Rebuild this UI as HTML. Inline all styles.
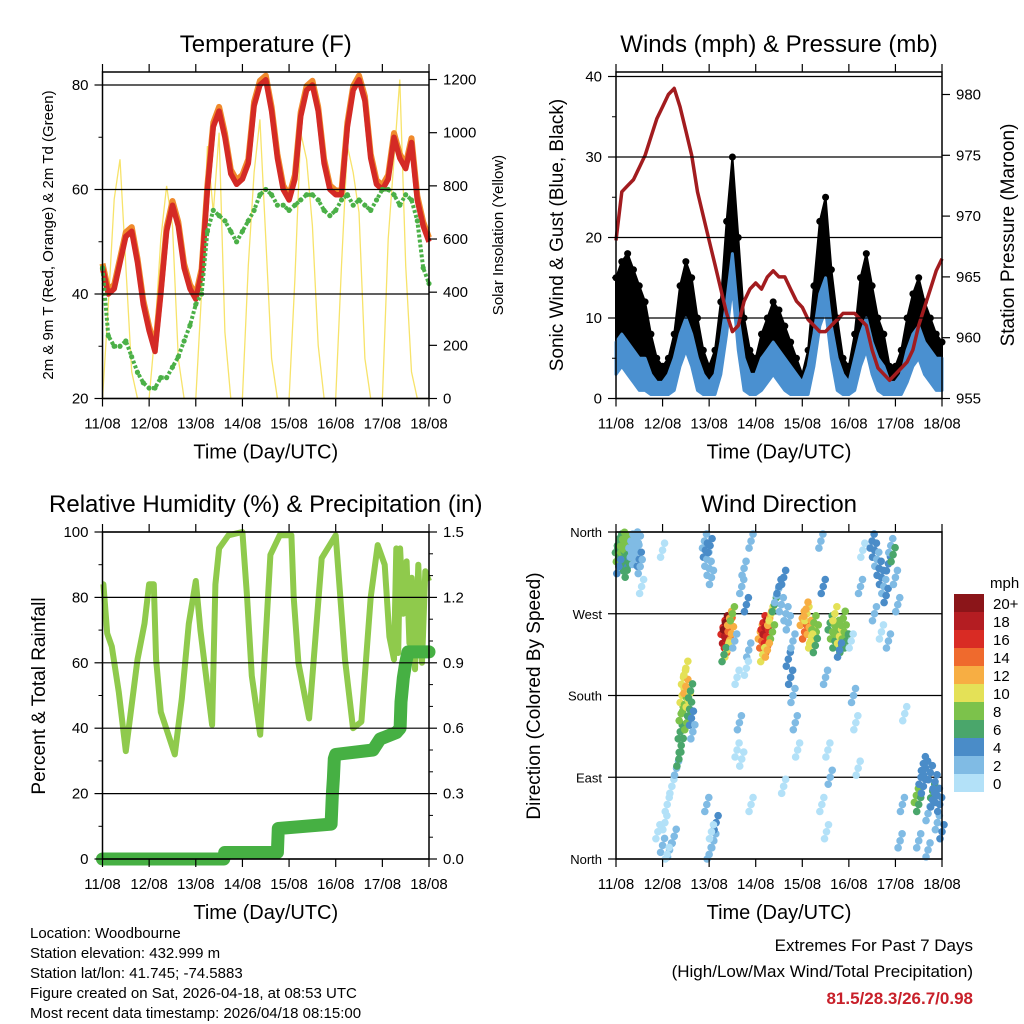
<!DOCTYPE html>
<html><head><meta charset="utf-8"><style>
body{margin:0;background:#fff}
svg{display:block;font-family:"Liberation Sans",sans-serif}
</style></head><body>
<svg id="s" width="1024" height="1024" viewBox="0 0 1024 1024">
<g id="g1"></g>
<g id="g2"></g>
<g id="g3"></g>
<g id="g4"></g>
<g font-size="15" fill="#000">
<text x="30" y="938">Location: Woodbourne</text>
<text x="30" y="958">Station elevation: 432.999 m</text>
<text x="30" y="978">Station lat/lon: 41.745; -74.5883</text>
<text x="30" y="998">Figure created on Sat, 2026-04-18, at 08:53 UTC</text>
<text x="30" y="1018">Most recent data timestamp: 2026/04/18 08:15:00</text>
</g>
<g text-anchor="end">
<text x="973" y="951" font-size="17">Extremes For Past 7 Days</text>
<text x="973" y="977" font-size="17">(High/Low/Max Wind/Total Precipitation)</text>
<text x="973" y="1004" font-size="17" font-weight="bold" fill="#c8202a">81.5/28.3/26.7/0.98</text>
</g>
</svg>
<script>
const days=["11/08","12/08","13/08","14/08","15/08","16/08","17/08","18/08"];
const temp=[45,40,41,46,51,52,46,38,33,29,40,52,57,53,45,41,39,44,60,72,75,70,63,61,62,65,76,80,81,75,66,60,58,62,74,79,80,75,65,60,59,59,72,79,81,77,66,61,60,62,70,66,64,69,58,53,50];
const dew=[45,32,30,30,31,28,25,23,22,22,24,24,26,28,31,34,38,40,52,56,55,54,52,50,52,54,56,59,60,59,57,57,56,57,58,59,59,58,56,55,56,58,59,57,58,57,56,58,60,60,59,57,59,58,54,45,42];
const solar=[0,350,750,900,500,100,0,0, 0,250,600,800,650,150,0,0, 0,400,950,700,1000,250,0,0, 0,500,850,1050,600,150,0,0, 0,450,1000,900,650,200,0,0, 0,500,950,850,700,150,0,0, 0,600,900,1200,500,100,0,0, 0];
const gust=[15,17,18,16,14,12,8,5, 4,5,8,14,17,15,10,6, 4,6,12,22,30,20,10,6, 5,8,10,12,11,9,7,5, 3,6,14,22,25,16,10,5, 4,8,15,18,14,10,8,4, 4,6,10,13,15,12,10,8, 7];
const wind=[7,8,7,6,5,5,3,2, 2,3,5,8,10,8,5,3, 2,3,7,12,18,10,5,3, 3,5,6,7,6,5,4,3, 2,4,8,13,15,9,5,3, 2,5,8,10,7,5,4,2, 2,3,6,8,9,7,6,5, 5];
const pres=[968,972,972.5,973,974,975,976.5,978,979,980,980.5,979,977,975,972,970,968,966,964,962,960.5,961,963,964,964.5,964,965,965.5,965,965,964,963,962.5,961.5,961,960.5,960.5,961,961.5,962,962,962,961.5,961,959,957.5,957,956.5,957,957.5,958,959,961,962.5,964,965.5,966.5];
const rhT=[0,0.02,0.1,0.2,0.35,0.5,0.75,0.9,1.0,1.1,1.15,1.25,1.55,1.7,1.85,2.0,2.1,2.35,2.42,2.5,2.7,3.0,3.1,3.2,3.38,3.6,3.8,4.05,4.1,4.2,4.43,4.7,5.0,5.2,5.37,5.55,5.75,5.9,6.05,6.15,6.25,6.3,6.34,6.38,6.45,6.52,6.58,6.63,6.7,6.77,6.85,6.92,7.0];
const rh=[84,84,69,65,51,33,61,72,84,84,61,45,32,49,72,85,70,41,84,95,99,100,80,56,38,93,99,99,80,60,43,92,99,61,40,42,80,96,90,68,61,95,63,95,75,91,66,86,58,90,60,88,85];
const prT=[0,2.6,2.62,3.75,3.77,4.9,4.93,4.95,4.97,5.0,5.8,5.95,6.3,6.38,6.4,6.45,6.5,6.55,7.0];
const prV=[0,0,0.03,0.03,0.14,0.16,0.30,0.37,0.46,0.48,0.50,0.55,0.58,0.60,0.72,0.83,0.90,0.95,0.95];
const wdT=[0.03,0.05,0.08,0.1,0.12,0.15,0.18,0.2,0.22,0.25,0.28,0.3,0.06,0.14,0.24,
0.32,0.35,0.38,0.4,0.42,0.45,0.48,0.5,0.55,0.52,
0.9,1.0,1.05,1.1,1.15,1.2,1.25,1.3,1.0,1.1,
1.35,1.38,1.4,1.42,1.45,1.47,1.5,1.52,1.55,1.58,1.6,1.62,1.65,1.4,1.5,
1.9,1.92,1.95,2.0,2.02,2.05,2.1,2.15,1.95,2.0,2.05,
2.3,2.33,2.35,2.37,2.4,2.42,2.45,2.48,2.38,2.44,2.32,2.5,
2.55,2.6,2.65,2.7,2.75,2.8,2.85,2.9,2.6,2.7,2.8,2.9,
3.1,3.13,3.16,3.2,3.23,3.26,3.3,3.33,3.36,3.4,3.15,3.25,
3.45,3.5,3.55,3.6,3.65,3.7,3.75,3.8,3.85,3.9,3.6,3.7,3.8,
4.0,4.05,4.1,4.15,4.2,4.25,4.3,4.08,4.18,4.28,
4.4,4.45,4.5,4.55,4.6,4.42,4.52,
4.6,4.65,4.7,4.75,4.8,4.85,4.9,4.95,4.7,4.8,4.88,
5.05,5.1,5.15,5.2,5.25,5.3,
5.5,5.55,5.6,5.65,5.7,5.75,5.8,5.85,5.9,5.95,6.0,6.05,5.55,5.7,5.85,
6.1,6.15,6.2,
6.45,6.5,6.55,6.6,6.65,6.7,6.75,6.8,6.85,6.9,6.95,7.0,6.5,6.6,6.7,6.8,6.9];
const wdDir=[345,335,350,340,330,345,338,325,348,335,342,330,322,352,318,
350,340,345,332,355,338,348,330,300,322,
30,15,40,60,10,80,25,100,340,5,
110,140,160,180,200,170,190,150,175,165,185,155,140,125,210,
350,340,330,320,345,310,20,40,60,5,30,
255,245,260,240,250,235,258,248,230,265,225,270,
240,200,150,300,320,280,230,350,120,110,210,60,
250,240,260,255,245,235,265,270,250,280,225,230,
290,300,280,310,270,220,200,180,150,120,80,260,240,
265,250,270,255,245,260,250,275,240,235,
350,300,200,120,90,60,30,
260,250,240,255,245,235,250,240,270,230,265,
240,180,150,100,300,340,
350,340,330,320,310,300,290,325,345,335,310,280,270,250,240,
20,60,160,
70,60,90,80,100,50,95,75,85,40,60,30,20,105,10,65,70];
const wdSpd=[7,8,6,7,5,8,6,7,9,6,7,5,4,8,6,
3,2,3,2,2,3,2,4,1,2,
1,2,1,1,2,1,2,3,1,1,
6,7,8,10,11,9,12,8,10,7,6,4,3,7,10,
3,4,2,3,4,3,2,4,2,3,1,
16,18,20,17,19,14,15,12,10,13,6,8,
2,1,2,3,2,4,3,2,1,1,1,1,
12,14,16,18,17,15,12,10,8,7,10,13,
3,4,2,4,3,4,4,3,2,1,1,3,2,
12,14,10,13,11,9,8,12,10,6,
3,4,2,1,2,1,1,
6,8,7,9,10,6,8,7,11,5,9,
1,2,1,1,2,1,
4,5,3,4,4,3,5,4,3,6,3,2,2,1,2,
2,3,1,
8,6,4,5,4,3,5,6,4,3,5,4,3,4,2,5,4];
const cbLabels=["0","2","4","6","8","10","12","14","16","18","20+"];
const cbColors=["#b3e1f8","#80bbe4","#4a8cc8","#4aa66b","#7cc24b","#e4e157","#f7ae43","#ef6a2d","#d92b24","#b41d22","#8b1519"];

const NS="http://www.w3.org/2000/svg";
function el(parent,tag,attrs,name,txt){const e=document.createElementNS(NS,tag);for(const k in attrs)e.setAttribute(k,attrs[k]);


if(txt!==undefined)e.textContent=txt;parent.appendChild(e);return e;}
function pts(xs,ys){return xs.map((x,i)=>x.toFixed(1)+","+ys[i].toFixed(1)).join(" ");}

function frame(g,P,o){
  for(let d=0;d<days.length;d++){const x=P.xs(d);
    el(g,"line",{x1:x,x2:x,y1:P.b,y2:P.b+8,stroke:"#000","stroke-width":1.2},"x-tick");
    el(g,"line",{x1:x,x2:x,y1:P.t,y2:P.t-8,stroke:"#000","stroke-width":1.2},"x-tick-top");
    el(g,"text",{x:x,y:P.b+30,"font-size":15,"text-anchor":"middle"},"x-tick-label",days[d]);}
  el(g,"text",{x:(P.l+P.r)/2,y:P.b+60,"font-size":20,"text-anchor":"middle"},"x-axis-title","Time (Day/UTC)");
  el(g,"text",{x:(P.l+P.r)/2+o.titleDx,y:P.t-20,"font-size":24,"text-anchor":"middle"},"panel-title",o.title);
}
function box(g,P){el(g,"rect",{x:P.l,y:P.t,width:P.r-P.l,height:P.b-P.t,fill:"none",stroke:"#000","stroke-width":1.5},"plot-frame");}
function yTicks(g,P,vals,fy,side,labels,grid,fs){
  vals.forEach((v,i)=>{const y=fy(v);
    if(side==="l"){el(g,"line",{x1:P.l-8,x2:P.l,y1:y,y2:y,stroke:"#000","stroke-width":1.2},"y-tick");
      el(g,"text",{x:P.l-14,y:y+5,"font-size":fs,"text-anchor":"end"},"y-tick-label",labels[i]);}
    else{el(g,"line",{x1:P.r,x2:P.r+8,y1:y,y2:y,stroke:"#000","stroke-width":1.2},"y2-tick");
      el(g,"text",{x:P.r+14,y:y+5,"font-size":fs,"text-anchor":"start"},"y2-tick-label",labels[i]);}
    if(grid)el(g,"line",{x1:P.l,x2:P.r,y1:y,y2:y,stroke:"#000","stroke-width":1.2},"gridline");
  });
}
function minor(g,P,vals,fy,side){vals.forEach(v=>{const y=fy(v);
  if(side==="l")el(g,"line",{x1:P.l-4,x2:P.l,y1:y,y2:y,stroke:"#000"},"y-minor-tick");
  else el(g,"line",{x1:P.r,x2:P.r+4,y1:y,y2:y,stroke:"#000"},"y2-minor-tick");});}
function vtitle(g,x,y,txt,fs,name){el(g,"text",{x:0,y:0,"font-size":fs,"text-anchor":"middle",transform:`translate(${x},${y}) rotate(-90)`},name,txt);}

const step=i=>i/8;
// ---- Panel 1
{const g=document.getElementById("g1");
 const P={l:102.5,r:429,t:72,b:398.5};P.xs=d=>P.l+d*(P.r-P.l)/7;
 const yT=v=>398.5-(v-20)*5.225, yS=s=>398.5-s*0.2658;
 const xs=solar.map((_,i)=>P.xs(step(i)));
 el(g,"polyline",{points:pts(xs,solar.map(yS)),fill:"none",stroke:"#f7e36a","stroke-width":1.3},"solar-line");
 const xt=temp.map((_,i)=>P.xs(step(i)));
 el(g,"polyline",{points:pts(xt,temp.map(v=>yT(v+0.8))),fill:"none",stroke:"#f08a2c","stroke-width":6,"stroke-linejoin":"round"},"temp-9m-line");
 el(g,"polyline",{points:pts(xt,temp.map(yT)),fill:"none",stroke:"#d42a25","stroke-width":5.5,"stroke-linejoin":"round"},"temp-2m-line");
 el(g,"polyline",{points:pts(xt,dew.map(yT)),fill:"none",stroke:"#4bb047","stroke-width":4,"stroke-dasharray":"3 2","stroke-linejoin":"round"},"dewpoint-line");
 dew.forEach((v,i)=>el(g,"circle",{cx:xt[i],cy:yT(v),r:2.6,fill:"#4bb047"},"dewpoint-point"));
 yTicks(g,P,[20,40,60,80],yT,"l",["20","40","60","80"],true,15);
 minor(g,P,[30,50,70],yT,"l");
 yTicks(g,P,[0,200,400,600,800,1000,1200],yS,"r",["0","200","400","600","800","1000","1200"],false,15);
 box(g,P);frame(g,P,{title:"Temperature (F)",titleDx:0});
 vtitle(g,53,235,"2m & 9m T (Red, Orange) & 2m Td (Green)",15,"y-axis-title");
 vtitle(g,503,235,"Solar Insolation (Yellow)",15,"y2-axis-title");}
// ---- Panel 2
{const g=document.getElementById("g2");
 const P={l:616,r:942,t:72,b:398.5};P.xs=d=>P.l+d*(P.r-P.l)/7;
 const yW=v=>398.5-v*8.05, yP=p=>398.5-(p-955)*12.16;
 const xs=gust.map((_,i)=>P.xs(step(i)));
 const band=pts(xs,gust.map(yW))+" "+pts(xs.slice().reverse(),wind.slice().reverse().map(yW));
 el(g,"polygon",{points:band,fill:"#000",stroke:"#000","stroke-width":2,"stroke-linejoin":"round"},"gust-band");
 gust.forEach((v,i)=>el(g,"circle",{cx:xs[i],cy:yW(v),r:3.5,fill:"#000"},"gust-point"));
 const lowband=pts(xs,wind.map(yW))+" "+pts(xs.slice().reverse(),wind.slice().reverse().map(v=>yW(Math.max(v-4,0.5))));
 el(g,"polygon",{points:lowband,fill:"#4a90d0",stroke:"#4a90d0","stroke-width":3,"stroke-linejoin":"round"},"wind-band");
 el(g,"polyline",{points:pts(xs,pres.map(yP)),fill:"none",stroke:"#a21c1f","stroke-width":3.5,"stroke-linejoin":"round"},"pressure-line");
 yTicks(g,P,[0,10,20,30,40],yW,"l",["0","10","20","30","40"],true,15);
 minor(g,P,[5,15,25,35],yW,"l");
 yTicks(g,P,[955,960,965,970,975,980],yP,"r",["955","960","965","970","975","980"],false,15);
 box(g,P);frame(g,P,{title:"Winds (mph) & Pressure (mb)",titleDx:0});
 vtitle(g,563,235,"Sonic Wind & Gust (Blue, Black)",19,"y-axis-title");
 vtitle(g,1014,235,"Station Pressure (Maroon)",19,"y2-axis-title");}
// ---- Panel 3
{const g=document.getElementById("g3");
 const P={l:102.5,r:429,t:532,b:859};P.xs=d=>P.l+d*(P.r-P.l)/7;
 const yR=v=>859-v*3.27, yPr=r=>859-r*218;
 el(g,"polyline",{points:pts(rhT.map(P.xs),rh.map(yR)),fill:"none",stroke:"#8fca4c","stroke-width":6,"stroke-linejoin":"round"},"rh-line");
 el(g,"polyline",{points:pts(prT.map(P.xs),prV.map(yPr)),fill:"none",stroke:"#46b043","stroke-width":13,"stroke-linejoin":"round","stroke-linecap":"round"},"precip-line");
 yTicks(g,P,[0,20,40,60,80,100],yR,"l",["0","20","40","60","80","100"],true,15);
 minor(g,P,[10,30,50,70,90],yR,"l");
 yTicks(g,P,[0,0.3,0.6,0.9,1.2,1.5],yPr,"r",["0.0","0.3","0.6","0.9","1.2","1.5"],false,15);
 minor(g,P,[0.1,0.2,0.4,0.5,0.7,0.8,1.0,1.1,1.3,1.4],yPr,"r");
 box(g,P);frame(g,P,{title:"Relative Humidity (%) & Precipitation (in)",titleDx:0});
 vtitle(g,45,696,"Percent & Total Rainfall",19,"y-axis-title");}
// ---- Panel 4
{const g=document.getElementById("g4");
 const P={l:616,r:942,t:532,b:859};P.xs=d=>P.l+d*(P.r-P.l)/7;
 const yD=d=>859-d*327/360;
 yTicks(g,P,[0,90,180,270,360],yD,"l",["North","East","South","West","North"],true,13);
 const offs=[[0,0],[2,-7],[-2,7]];
 wdT.forEach((t,i)=>{const c=cbColors[Math.min(10,Math.floor(wdSpd[i]/2))];
   offs.forEach(o=>{const cy=Math.min(P.b,Math.max(P.t,yD(wdDir[i])+o[1]));
     el(g,"circle",{cx:P.xs(t)+o[0],cy:cy,r:3.8,fill:c},"direction-point");});});
 box(g,P);frame(g,P,{title:"Wind Direction",titleDx:0});
 vtitle(g,540,696,"Direction (Colored By Speed)",19,"y-axis-title");
 el(g,"text",{x:990,y:588,"font-size":15},"colorbar-unit","mph");
 cbColors.forEach((c,i)=>{const y=774-i*18;
   el(g,"rect",{x:954,y:y,width:30,height:18,fill:c},"colorbar-swatch");
   el(g,"text",{x:993,y:y+15,"font-size":15},"colorbar-label",cbLabels[i]);});}
</script>
</body></html>
